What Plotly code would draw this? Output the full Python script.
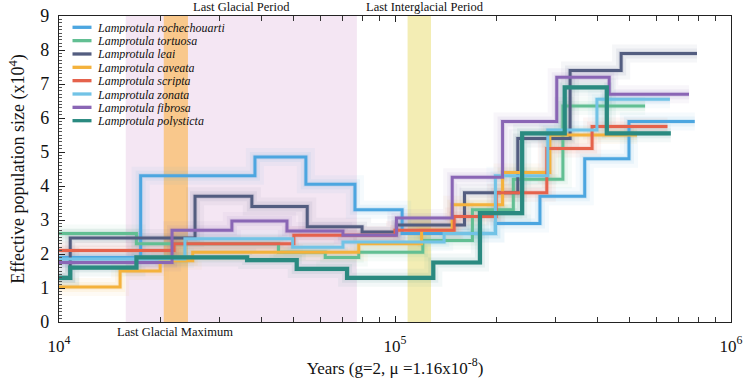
import plotly.graph_objects as go

# ---------------- data ----------------
species = ["Lamprotula rochechouarti", "Lamprotula tortuosa", "Lamprotula leai",
           "Lamprotula caveata", "Lamprotula scripta", "Lamprotula zonata",
           "Lamprotula fibrosa", "Lamprotula polysticta"]
colors = ["#4CA6E0", "#62BF93", "#535D80", "#F4B23C", "#E5624C", "#72C3E6", "#8A66B5", "#2A8A80"]

roch_t = [10000, 17500, 38300, 54300, 76000, 105000, 199000, 270000, 367000, 497000, 780000]
roch_ne = [1.9, 4.3, 4.85, 4.05, 3.3, 2.6, 2.9, 3.7, 4.8, 5.9, 5.9]

tort_t = [10000, 17000, 45000, 62000, 78000, 121000, 170000, 225000, 316000, 555000]
tort_ne = [2.6, 2.3, 2.05, 1.9, 2.05, 2.4, 3.3, 4.2, 6.35, 6.35]

leai_t = [10000, 10800, 25400, 37500, 54800, 79800, 101000, 161000, 232000, 332000, 471000, 792000]
leai_ne = [1.3, 2.47, 3.7, 3.4, 2.8, 2.65, 2.85, 3.8, 5.4, 7.4, 7.9, 7.9]

cave_t = [10000, 15200, 20000, 25000, 78000, 120000, 148000, 209000, 289000, 525000]
cave_ne = [1.03, 1.5, 1.8, 2.05, 2.3, 2.7, 3.45, 4.4, 5.5, 5.5]

scri_t = [10000, 22000, 50000, 100000, 150000, 200000, 283000, 386000, 647000]
scri_ne = [2.1, 2.3, 2.55, 2.7, 3.1, 3.8, 5.1, 5.75, 5.75]

zona_t = [10000, 23700, 49600, 70000, 140000, 199000, 285000, 399000, 658000]
zona_ne = [1.85, 2.45, 2.2, 2.35, 2.6, 4.3, 5.65, 6.55, 6.55]

fibr_t = [10000, 21700, 32700, 47700, 70000, 101000, 148000, 209000, 303000, 434000, 750000]
fibr_ne = [1.75, 2.7, 2.97, 2.68, 2.55, 3.06, 4.26, 5.9, 7.2, 6.7, 6.7]

poly_t = [10000, 10800, 17000, 36300, 51000, 72000, 130000, 179000, 239000, 320000, 427000, 662000]
poly_ne = [1.3, 1.6, 1.9, 1.82, 1.56, 1.3, 1.75, 3.2, 5.55, 6.9, 5.55, 5.55]

series_t = [roch_t, tort_t, leai_t, cave_t, scri_t, zona_t, fibr_t, poly_t]
series_ne = [roch_ne, tort_ne, leai_ne, cave_ne, scri_ne, zona_ne, fibr_ne, poly_ne]

# climate periods (years)
glacial_period = [15800, 77000]
glacial_max = [20500, 24200]
interglacial = [109000, 128000]

y_ticks = [0, 1, 2, 3, 4, 5, 6, 7, 8, 9]
x_ticks = [1e4, 1e5, 1e6]
x_ticklabels = ["10<sup>4</sup>", "10<sup>5</sup>", "10<sup>6</sup>"]
x_minor = [m * 10 ** e for e in (4, 5) for m in range(2, 10)]

SERIF = "Liberation Serif, Times New Roman, serif"

fig = go.Figure()

# haze (bootstrap-like spread) under the main lines
for t, ne, c in zip(series_t, series_ne, colors):
    for w, op in [(18, 0.05), (10, 0.08), (5, 0.12)]:
        fig.add_trace(go.Scatter(x=t, y=ne, mode="lines", line=dict(color=c, width=w, shape="hv"),
                                 opacity=op, showlegend=False, hoverinfo="skip"))

for name, t, ne, c in zip(species, series_t, series_ne, colors):
    w = 4.2 if name.endswith("polysticta") else 3
    fig.add_trace(go.Scatter(x=t, y=ne, mode="lines", name=name,
                             line=dict(color=c, width=w, shape="hv"), showlegend=False))

shapes = []
for rng, col in [(glacial_period, "#F4E6F3"), (glacial_max, "#F9C88C"), (interglacial, "#F3EDB4")]:
    shapes.append(dict(type="rect", xref="x", yref="paper", x0=rng[0], x1=rng[1], y0=0, y1=1,
                       fillcolor=col, line=dict(width=0), layer="below"))

# manual compact legend
PW, PH = 672.0, 306.0
annotations = []
for i, (name, c) in enumerate(zip(species, colors)):
    ypx = 27.3 + 13.34 * i - 16
    yp = 1 - ypx / PH
    shapes.append(dict(type="line", xref="paper", yref="paper", x0=13.5 / PW, x1=32.5 / PW,
                       y0=yp, y1=yp, line=dict(color=c, width=3.3)))
    annotations.append(dict(xref="paper", yref="paper", x=36 / PW, y=yp, text="<i>" + name + "</i>",
                            showarrow=False, xanchor="left", yanchor="middle", height=13,
                            font=dict(family=SERIF, size=12, color="#111")))

annotations += [
    dict(xref="paper", yref="paper", x=(242 - 59) / PW, y=1 + (16 - 7) / PH, text="Last Glacial Period",
         showarrow=False, xanchor="center", yanchor="middle", font=dict(family=SERIF, size=12.5, color="#111")),
    dict(xref="paper", yref="paper", x=(425 - 59) / PW, y=1 + (16 - 7) / PH, text="Last Interglacial Period",
         showarrow=False, xanchor="center", yanchor="middle", font=dict(family=SERIF, size=12.5, color="#111")),
    dict(xref="paper", yref="paper", x=(175 - 59) / PW, y=-(332 - 322) / PH, text="Last Glacial Maximum",
         showarrow=False, xanchor="center", yanchor="middle", font=dict(family=SERIF, size=12.5, color="#111")),
]

fig.update_layout(
    width=745, height=378,
    margin=dict(l=59, r=14, t=16, b=56),
    paper_bgcolor="white", plot_bgcolor="white",
    shapes=shapes, annotations=annotations,
    font=dict(family=SERIF, color="#111"),
    xaxis=dict(type="log", range=[4, 6], tickvals=x_ticks, ticktext=x_ticklabels, automargin=False,
               ticks="inside", ticklen=6, tickcolor="#222", showgrid=False, zeroline=False,
               showline=True, linecolor="#222", linewidth=1.2, mirror="ticks",
               tickfont=dict(family=SERIF, size=17), ticklabelstandoff=8,
               minor=dict(ticks="inside", ticklen=5, tickcolor="#333", showgrid=False, tickvals=x_minor),
               title=dict(text="Years (g=2, \u03bc =1.16x10<sup>-8</sup>)", font=dict(family=SERIF, size=17), standoff=3)),
    yaxis=dict(range=[0, 9], tickvals=y_ticks, ticks="inside", ticklen=6, tickcolor="#222", automargin=False,
               showgrid=False, zeroline=False, showline=True, linecolor="#222", linewidth=1.2, mirror=True,
               tickfont=dict(family=SERIF, size=18), ticklabelstandoff=5,
               minor=dict(ticks="inside", ticklen=3, dtick=0.1, tickcolor="#555", showgrid=False),
               title=dict(text="Effective population size (x10<sup>4</sup>)", font=dict(family=SERIF, size=18), standoff=10)),
)

fig.write_html("out.html", config={"displayModeBar": False},
               post_script="document.body.style.margin='0';document.body.style.overflow='hidden';")
